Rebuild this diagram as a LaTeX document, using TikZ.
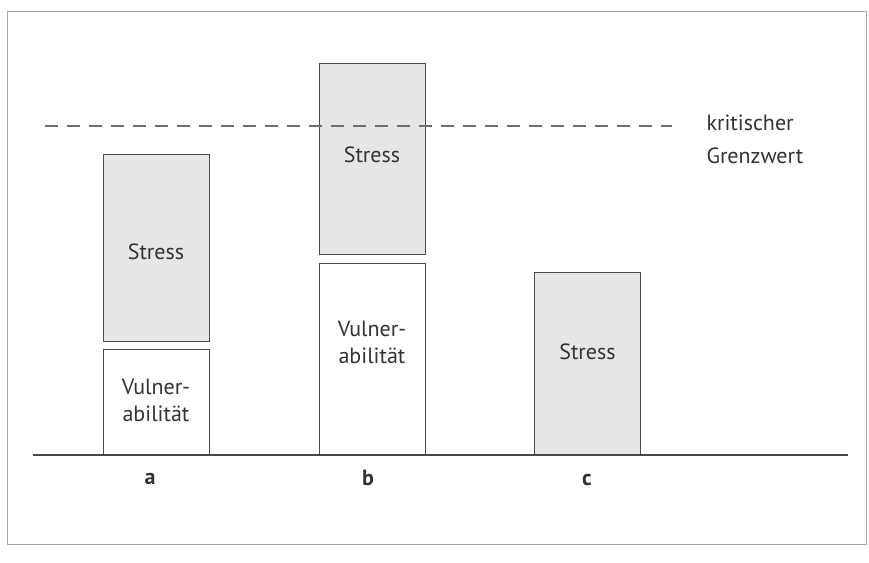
\documentclass[tikz,border=0pt]{standalone}
\usepackage{fontspec}
\setmainfont{PT Sans}
\usepackage{tikz}
\usetikzlibrary{positioning}
\definecolor{stressfill}{HTML}{E6E6E6}
\definecolor{edgecol}{HTML}{4A4A4A}
\definecolor{txtcol}{HTML}{333333}

\begin{document}
\begin{tikzpicture}[x=1pt, y=-1pt,
    box/.style={rectangle, draw=edgecol, line width=1pt, minimum width=106pt,
      inner sep=0pt},
    stressbox/.style={box, fill=stressfill},
    vulnbox/.style={box, fill=white},
    txt/.style={font=\fontsize{22}{27}\selectfont, text=txtcol, align=center},
    barlbl/.style={font=\fontsize{22}{26}\selectfont\bfseries, text=txtcol},
    grenz/.style={line width=1.1pt, edgecol!80, dash pattern=on 13pt off 9pt}]
  \useasboundingbox (0,0) rectangle (869,562);
  \draw[gray!70, line width=1pt] (7,11) rectangle (866,544);
  % bar a
  \node[stressbox, minimum height=187pt] (sa) at (156,247.5) {};
  \node[txt] (sat) at (156,252) {Stress};
  \node[vulnbox, minimum height=106pt] (va) at (156,402) {};
  \node[txt] (vat) at (156,400) {Vulner-\\abilität};
  % bar b
  \node[stressbox, minimum height=191pt] (sb) at (372,158.5) {};
  \node[txt] (sbt) at (372,155) {Stress};
  \node[vulnbox, minimum height=192pt] (vb) at (372,359) {};
  \node[txt] (vbt) at (372,342) {Vulner-\\abilität};
  % bar c
  \node[stressbox, minimum height=183pt] (sc) at (587.5,363.5) {};
  \node[txt] (sct) at (587.5,352) {Stress};
  % base line
  \coordinate (b0) at (33,455);
  \coordinate (b1) at (848,455);
  \draw[edgecol, line width=2pt] (b0) -- (b1);
  \node[barlbl] (la) at (150,479) {a};
  \node[barlbl] (lb) at (368,478) {b};
  \node[barlbl] (lc) at (587,480) {c};
  % kritischer Grenzwert
  \coordinate (g0) at (45,126);
  \coordinate (g1) at (672,126);
  \draw[grenz] (g0) -- (g1);
  \node[txt, font=\fontsize{22}{33}\selectfont, align=left, anchor=west]
    (gw) at (703,139) {kritischer\\Grenzwert};
\end{tikzpicture}
\end{document}
